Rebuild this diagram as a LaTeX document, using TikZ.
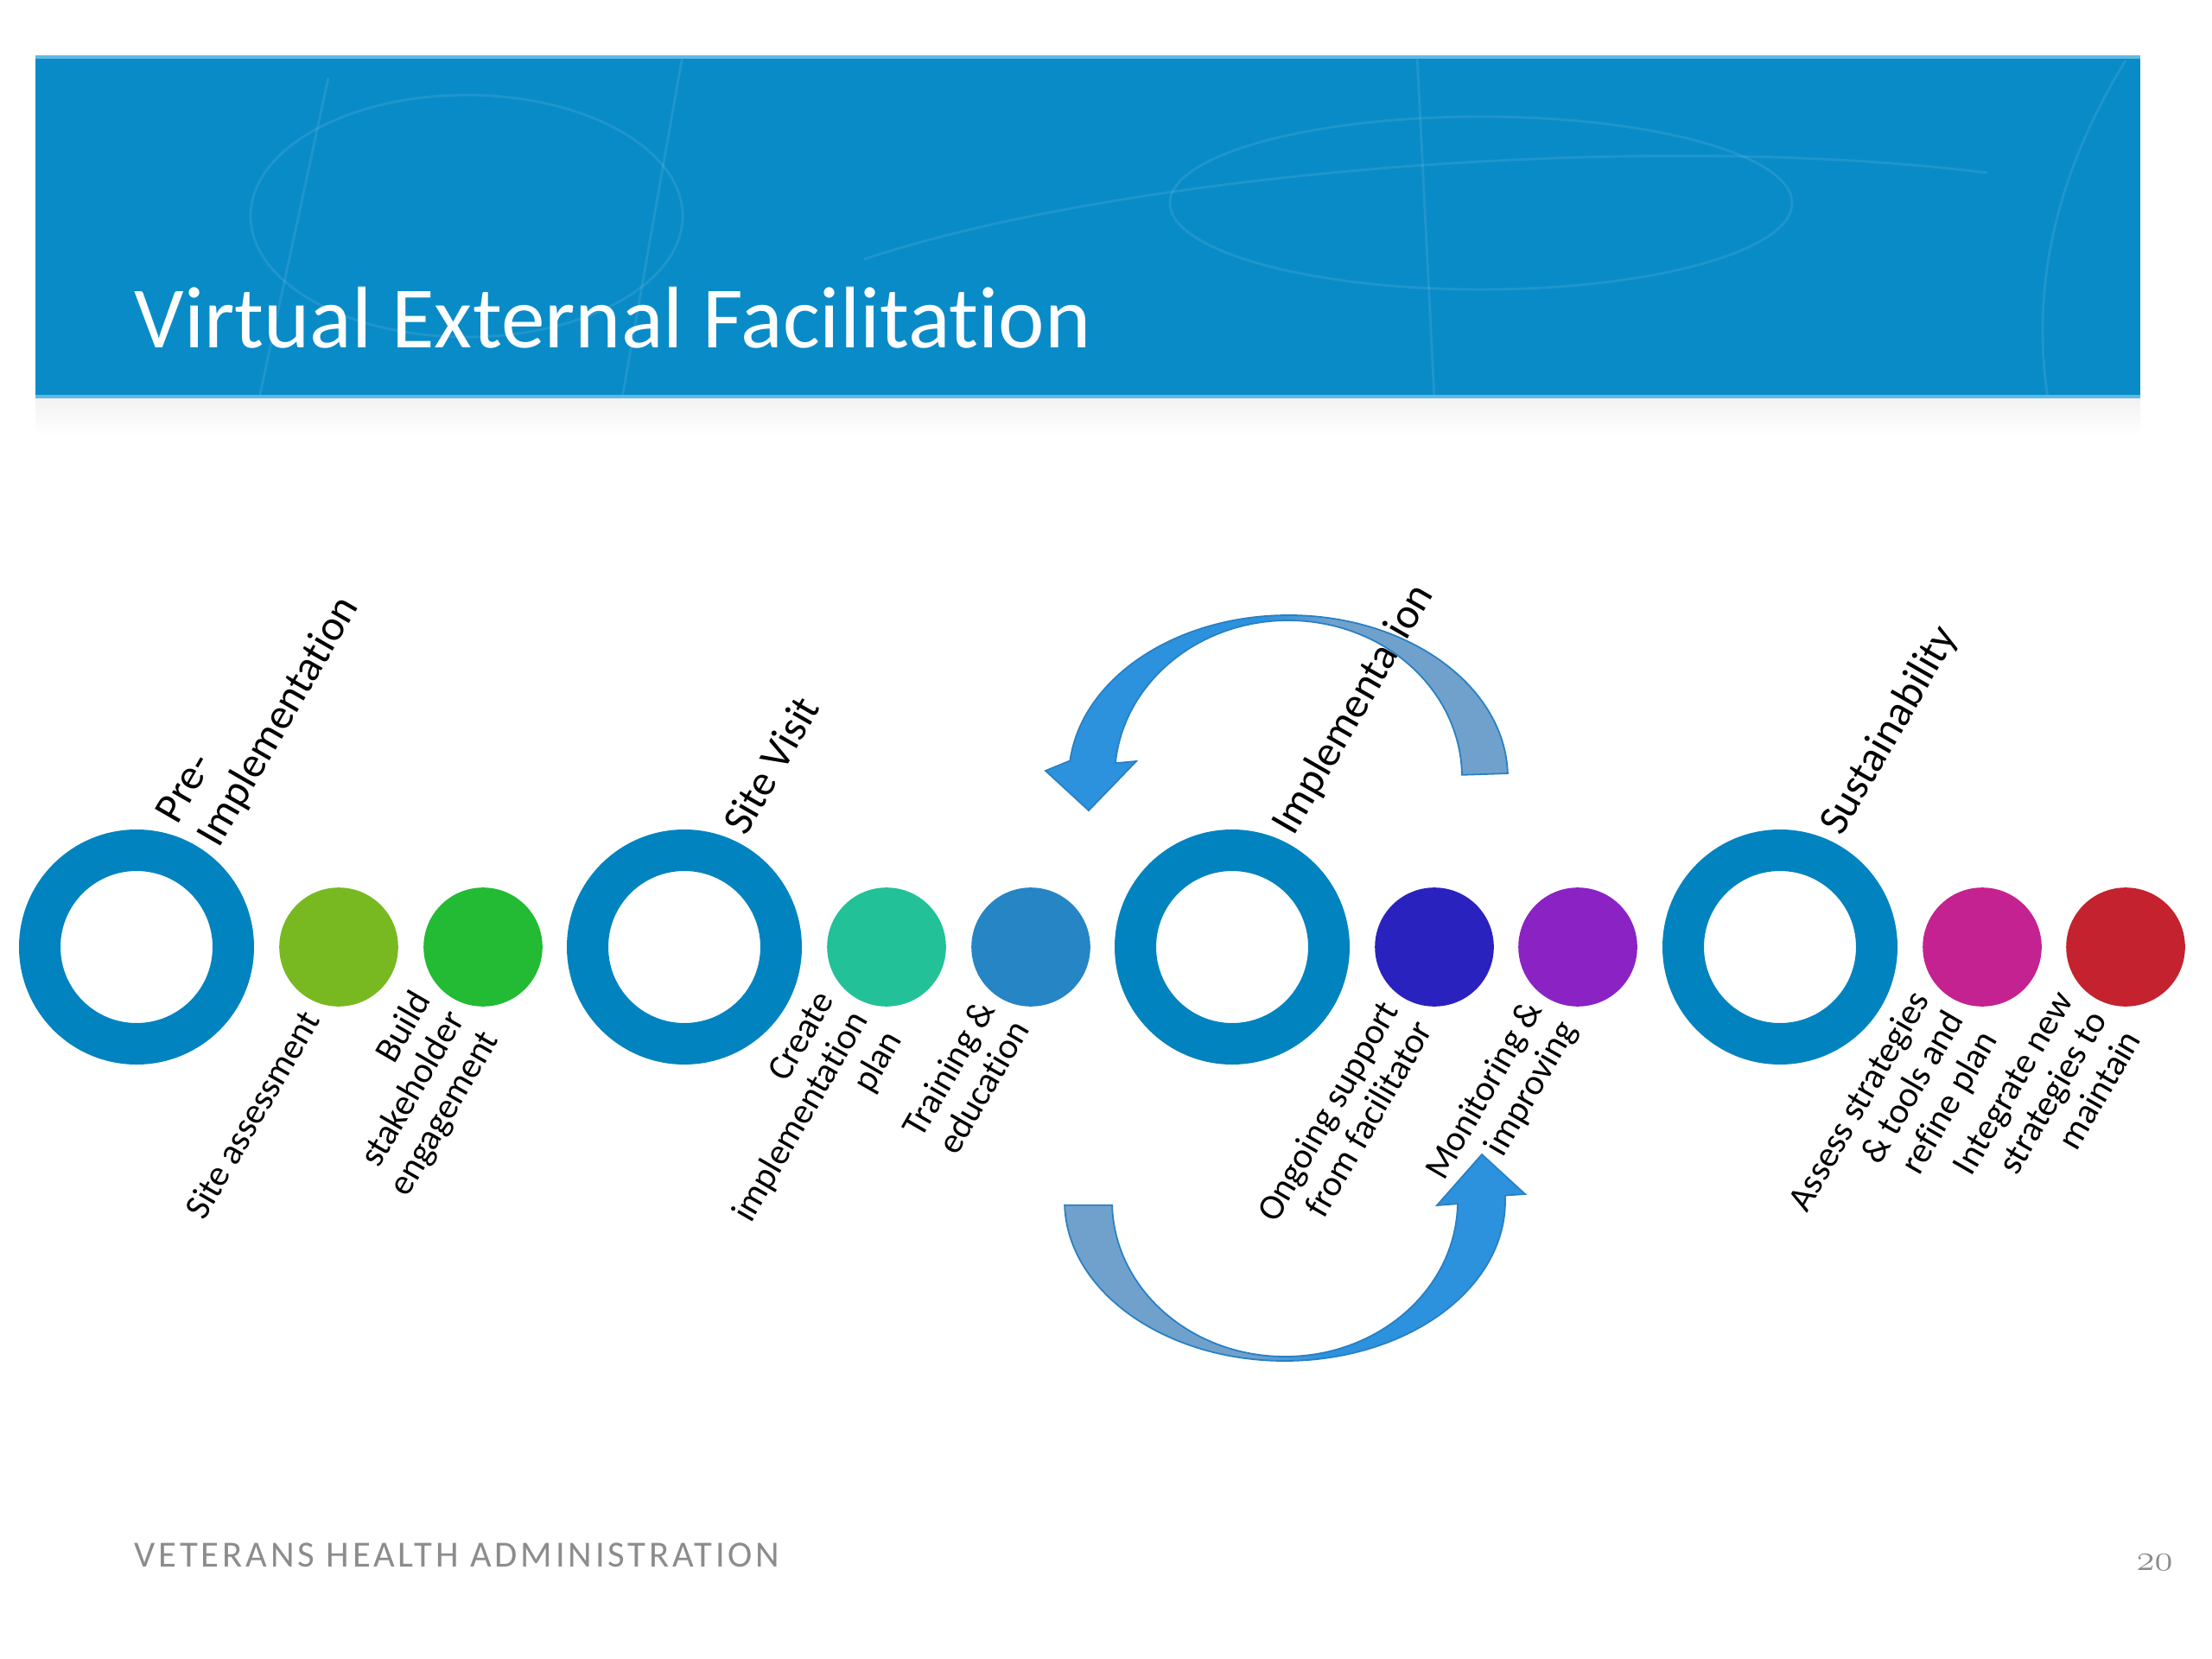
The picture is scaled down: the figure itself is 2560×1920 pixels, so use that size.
\documentclass[tikz,border=0pt]{standalone}
\usepackage{fontspec}
\newfontfamily\calib{Carlito}[Ligatures=NoCommon]
\usetikzlibrary{calc}
\definecolor{bannerblue}{RGB}{9,139,200}
\definecolor{bannerline}{RGB}{95,185,230}
\definecolor{ringblue}{RGB}{0,131,191}
\definecolor{cA}{RGB}{120,185,34}
\definecolor{cB}{RGB}{34,187,51}
\definecolor{cC}{RGB}{34,193,151}
\definecolor{cD}{RGB}{38,133,196}
\definecolor{cE}{RGB}{42,34,190}
\definecolor{cF}{RGB}{138,34,196}
\definecolor{cG}{RGB}{196,34,144}
\definecolor{cH}{RGB}{196,34,46}
\definecolor{abright}{RGB}{45,146,221}
\definecolor{agray}{RGB}{112,161,205}
\definecolor{aoutline}{RGB}{40,128,196}
\definecolor{footgray}{RGB}{140,140,140}
\pgfdeclarehorizontalshading{topshade}{100bp}{color(0bp)=(abright); color(49bp)=(abright); color(56bp)=(agray); color(100bp)=(agray)}
\pgfdeclarehorizontalshading{botshade}{100bp}{color(0bp)=(agray); color(45bp)=(agray); color(53bp)=(abright); color(100bp)=(abright)}
\begin{document}
\begin{tikzpicture}[x=0.28125pt, y=-0.28125pt,
  ring/.style={circle, draw=ringblue, line width=13.5pt, minimum size=63pt, inner sep=0pt},
  disc/.style={circle, fill=#1, minimum size=38.7pt, inner sep=0pt},
  toplabel/.style={rotate=60, anchor=west, align=left, inner sep=0pt, text=black, font=\calib\fontsize{14}{15.5}\selectfont},
  botlabel/.style={rotate=60, anchor=east, align=right, inner sep=0pt, text=black, font=\calib\fontsize{11.8}{12.8}\selectfont},
  twist/.style={shade, draw=aoutline, line width=0.5pt},
  streak/.style={white, opacity=0.09, line width=0.8pt}
]
\useasboundingbox (0,0) rectangle (2560,1920);
\fill[white] (0,0) rectangle (2560,1920);

% banner
\fill[top color=black!5, bottom color=white] (41,461) rectangle (2477,505);
\fill[bannerblue] (41,64) rectangle (2477,461);
\begin{scope}
  \clip (41,64) rectangle (2477,461);
  \draw[streak] (540,250) ellipse [x radius=250, y radius=140];
  \draw[streak] (1714,235) ellipse [x radius=360, y radius=100];
  \draw[streak] (380,90) -- (300,461);
  \draw[streak] (790,64) -- (720,461);
  \draw[streak] (1640,64) -- (1660,461);
  \draw[streak] (2460,70) .. controls (2380,200) and (2350,330) .. (2370,461);
  \draw[streak] (1000,300) .. controls (1300,200) and (1900,150) .. (2300,200);
\end{scope}
\draw[bannerline, line width=1pt] (41,66) -- (2477,66);
\draw[bannerline, line width=1pt] (41,459) -- (2477,459);
\node[anchor=base west, inner sep=0pt, text=white, font=\calib\fontsize{28.5}{32}\selectfont] (title) at (155,403) {Virtual External Facilitation};

% bottom curved arrow (under the labels)
\coordinate (botC) at (1487,1390);
\coordinate (bA1) at (1765,1382);
\coordinate (bTip) at (1715,1336);
\coordinate (bA2) at (1663,1395);
\path[twist, shading=botshade] ($(botC)+(178.5:255 and 185)$) arc[start angle=178.5, end angle=-2, x radius=255, y radius=185] -- (bA1) -- (bTip) -- (bA2) -- ($(botC)+(1:200 and 180)$) arc[start angle=1, end angle=178.5, x radius=200, y radius=180] -- cycle;

% rings and discs
\node[ring] (r1) at (158,1096) {};
\node[ring] (r2) at (792,1096) {};
\node[ring] (r3) at (1426,1096) {};
\node[ring] (r4) at (2060,1096) {};
\node[disc=cA] (d1) at (392,1096) {};
\node[disc=cB] (d2) at (559,1096) {};
\node[disc=cC] (d3) at (1026,1096) {};
\node[disc=cD] (d4) at (1193,1096) {};
\node[disc=cE] (d5) at (1660,1096) {};
\node[disc=cF] (d6) at (1826,1096) {};
\node[disc=cG] (d7) at (2294,1096) {};
\node[disc=cH] (d8) at (2460,1096) {};

% phase labels
\node[toplabel] (t1) at (219.5,964) {\strut Pre-\\\strut Implementation};
\node[toplabel] (t2) at (853.5,964) {\strut Site Visit};
\node[toplabel] (t3) at (1487.5,964) {\strut Implementation};
\node[toplabel] (t4) at (2121.5,964) {\strut Sustainability};

% step labels
\node[botlabel] (b1) at (364,1175) {\strut Site assessment};
\node[botlabel] (b2) at (531,1175) {\strut Build\\\strut stakeholder\\\strut engagement};
\node[botlabel] (b3) at (998,1175) {\strut Create\\\strut implementation\\\strut plan};
\node[botlabel] (b4) at (1165,1175) {\strut Training \&\\\strut education};
\node[botlabel] (b5) at (1632,1175) {\strut Ongoing support\\\strut from facilitator};
\node[botlabel] (b6) at (1798,1175) {\strut Monitoring \&\\\strut improving};
\node[botlabel] (b7) at (2266,1175) {\strut Assess strategies\\\strut \& tools and\\\strut refine plan};
\node[botlabel] (b8) at (2432,1175) {\strut Integrate new\\\strut strategies to\\\strut maintain};

% top curved arrow (over the label)
\coordinate (topC) at (1491,900);
\coordinate (tA1) at (1210,892);
\coordinate (tTip) at (1260,938);
\coordinate (tA2) at (1315,881);
\path[twist, shading=topshade] ($(topC)+(-1.5:254 and 188)$) arc[start angle=-1.5, end angle=-174, x radius=254, y radius=188] -- (tA1) -- (tTip) -- (tA2) -- ($(topC)+(-174.7:201 and 182)$) arc[start angle=-174.7, end angle=-1, x radius=201, y radius=182] -- cycle;

% footer
\node[anchor=base west, inner sep=0pt, text=footgray, font=\calib\fontsize{12}{14}\selectfont\addfontfeatures{LetterSpace=9}] (footer) at (155,1813) {VETERANS HEALTH ADMINISTRATION};
\node[anchor=base west, inner sep=0pt, text=footgray, font=\fontsize{13}{15}\usefont{OML}{cmm}{m}{it}] (pagenum) at (2472,1817) {20};
\end{tikzpicture}
\end{document}
